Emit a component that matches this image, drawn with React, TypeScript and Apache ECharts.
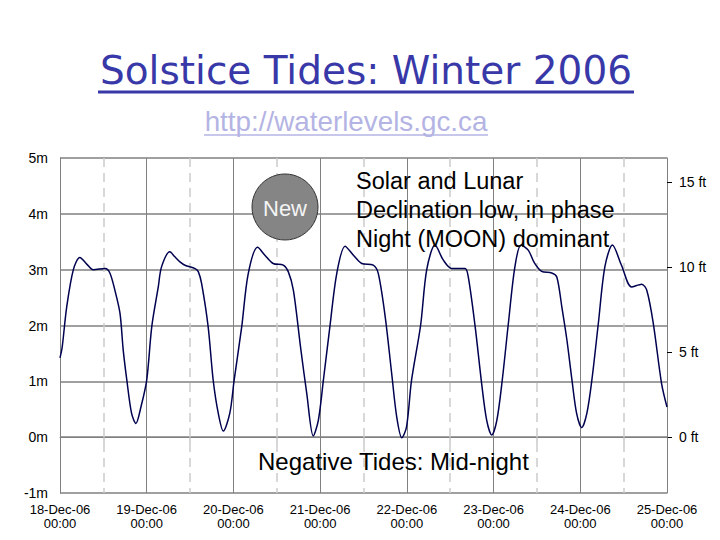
import React, { useEffect, useRef } from "react";
import * as echarts from "echarts";

// Tide level readings: hours since 18-Dec-06 00:00, water level in metres
const hours = [
  0, 0.6, 1.85, 3.7, 5.5, 7.4, 9.2, 12.5, 13.8, 15.2, 16.6, 17.5, 18.5, 19.8, 21.0, 22.4,
  24.0, 25.4, 27.2, 28.1, 30.4, 31.8, 33.2, 34.6, 37.4, 38.3, 39.2, 41.0, 42.4, 43.8, 45.2, 47.0,
  48.2, 50.3, 52.1, 54.7, 56.7, 59.0, 61.8, 63.2, 64.6, 66.6, 68.3, 70.1, 71.5,
  72.9, 74.7, 76.6, 78.9, 81.2, 83.5, 86.7, 88.1, 90.0, 91.8, 93.2, 94.6, 95.9,
  97.3, 99.8, 101.5, 103.8, 106.1, 108.4, 112.1, 113.0, 114.9, 116.7, 118.1, 119.5,
  120.9, 122.4, 124.1, 125.9, 127.6, 129.6, 131.3, 133.3, 136.1, 137.5, 138.9, 140.3, 141.7, 143.0,
  144.4, 145.8, 147.2, 149.0, 150.8, 152.9, 155.4, 158.2, 161.0, 162.4, 164.2, 166.5, 168,
];
const levels = [
  1.42, 1.61, 2.33, 3.0, 3.22, 3.1, 3.0, 3.02, 2.94, 2.63, 2.22, 1.56, 1.02, 0.43, 0.245, 0.54,
  1.02, 1.98, 2.69, 3.05, 3.32, 3.23, 3.14, 3.08, 3.02, 2.96, 2.75, 1.98, 1.02, 0.43, 0.11, 0.43,
  1.02, 1.98, 2.93, 3.4, 3.26, 3.11, 3.08, 2.96, 2.63, 1.6, 0.78, 0.02, 0.3,
  1.02, 1.98, 2.93, 3.42, 3.26, 3.11, 3.08, 2.93, 2.16, 1.14, 0.36, -0.01, 0.18,
  1.02, 2.0, 3.0, 3.44, 3.17, 3.02, 3.02, 2.87, 1.98, 0.96, 0.3, 0.04,
  0.3, 1.02, 2.04, 3.05, 3.44, 3.35, 3.12, 2.97, 2.94, 2.87, 2.33, 1.74, 1.02, 0.42,
  0.17, 0.42, 1.02, 2.04, 3.05, 3.44, 3.08, 2.69, 2.74, 2.63, 2.04, 0.96, 0.54,
];

const dayLabels = [
  "18-Dec-06", "19-Dec-06", "20-Dec-06", "21-Dec-06",
  "22-Dec-06", "23-Dec-06", "24-Dec-06", "25-Dec-06",
];
const timeLabel = "00:00";
const feetTicks = [0, 5, 10, 15];

const titleText = "Solstice Tides: Winter 2006";
const urlText = "http://waterlevels.gc.ca";
const noteLines = ["Solar and Lunar", "Declination low, in phase", "Night (MOON) dominant"];
const bottomNote = "Negative Tides: Mid-night";
const moonLabel = "New";

const M_TO_FT = 3.28084;

export default function App() {
  const ref = useRef<HTMLDivElement>(null);

  useEffect(() => {
    if (!ref.current) return;
    const chart = echarts.init(ref.current, undefined, { renderer: "svg" });
    const data = hours.map((h, i) => [h, levels[i]]);
    const labelFont = "'Liberation Sans', Arial, sans-serif";

    chart.setOption({
      animation: false,
      backgroundColor: "#ffffff",
      grid: { left: 60, right: 53, top: 158, bottom: 47, containLabel: false },
      xAxis: {
        type: "value",
        min: 0,
        max: 168,
        interval: 24,
        axisLine: { show: true, lineStyle: { color: "#808080", width: 1 } },
        axisTick: { show: true, length: 7, lineStyle: { color: "#808080" } },
        minorTick: { show: true, splitNumber: 2, length: 6, lineStyle: { color: "#c8c8c8", width: 1.5 } },
        splitLine: { show: true, lineStyle: { color: "#808080", width: 1 } },
        minorSplitLine: { show: true, lineStyle: { color: "#cccccc", width: 1.5, type: [9, 6] } },
        axisLabel: {
          color: "#000",
          fontSize: 13,
          fontFamily: labelFont,
          lineHeight: 14,
          margin: 9,
          formatter: (v: number) => `${dayLabels[Math.round(v / 24)]}\n${timeLabel}`,
        },
      },
      yAxis: [
        {
          type: "value",
          min: -1,
          max: 5,
          interval: 1,
          axisLine: { show: true, lineStyle: { color: "#808080", width: 1 } },
          axisTick: { show: false },
          splitLine: { show: true, lineStyle: { color: "#808080", width: 1.5 } },
          axisLabel: {
            color: "#000",
            fontSize: 14,
            fontFamily: labelFont,
            margin: 12,
            formatter: "{value}m",
          },
        },
        {
          type: "value",
          position: "right",
          min: -1 * M_TO_FT,
          max: 5 * M_TO_FT,
          axisLine: { show: true, lineStyle: { color: "#808080", width: 1 } },
          axisTick: { show: true, length: 5, customValues: feetTicks, lineStyle: { color: "#000" } },
          splitLine: { show: false },
          axisLabel: {
            color: "#000",
            fontSize: 14,
            fontFamily: labelFont,
            margin: 12,
            customValues: feetTicks,
            formatter: "{value} ft",
          },
        },
      ],
      series: [
        {
          type: "line",
          data,
          yAxisIndex: 0,
          showSymbol: false,
          smooth: 0.3,
          lineStyle: { color: "#000050", width: 1.5 },
          z: 3,
        },
      ],
      graphic: [
        {
          type: "text",
          x: 366,
          y: 70,
          style: {
            text: titleText,
            fill: "#3838a8",
            font: "39px 'DejaVu Sans', sans-serif",
            textAlign: "center",
            textVerticalAlign: "middle",
          },
        },
        {
          type: "line",
          shape: { x1: 98, y1: 92, x2: 634, y2: 92 },
          style: { stroke: "#3838a8", lineWidth: 3 },
        },
        {
          type: "text",
          x: 346,
          y: 121,
          style: {
            text: urlText,
            fill: "#b4b4e4",
            font: "27.8px 'Liberation Sans', Arial, sans-serif",
            textAlign: "center",
            textVerticalAlign: "middle",
          },
        },
        {
          type: "line",
          shape: { x1: 204, y1: 135, x2: 488, y2: 135 },
          style: { stroke: "#b4b4e4", lineWidth: 1.5 },
        },
        {
          type: "circle",
          shape: { cx: 285, cy: 207, r: 33 },
          style: { fill: "#858585", stroke: "#333333", lineWidth: 1 },
          z: 10,
        },
        {
          type: "text",
          x: 285,
          y: 208,
          z: 11,
          style: {
            text: moonLabel,
            fill: "#f4f4f4",
            font: "22px 'Liberation Sans', Arial, sans-serif",
            textAlign: "center",
            textVerticalAlign: "middle",
          },
        },
        ...noteLines.map((t, i) => ({
          type: "text",
          x: 356,
          y: 181 + i * 29,
          z: 11,
          style: {
            text: t,
            fill: "#000",
            font: "23.5px 'Liberation Sans', Arial, sans-serif",
            textAlign: "left",
            textVerticalAlign: "middle",
          },
        })),
        {
          type: "text",
          x: 258,
          y: 461,
          z: 11,
          style: {
            text: bottomNote,
            fill: "#000",
            font: "24px 'Liberation Sans', Arial, sans-serif",
            textAlign: "left",
            textVerticalAlign: "middle",
          },
        },
      ],
    });

    return () => chart.dispose();
  }, []);

  return (
    <div
      ref={ref}
      style={{ position: "fixed", left: 0, top: 0, width: 720, height: 540, background: "#fff" }}
    />
  );
}
